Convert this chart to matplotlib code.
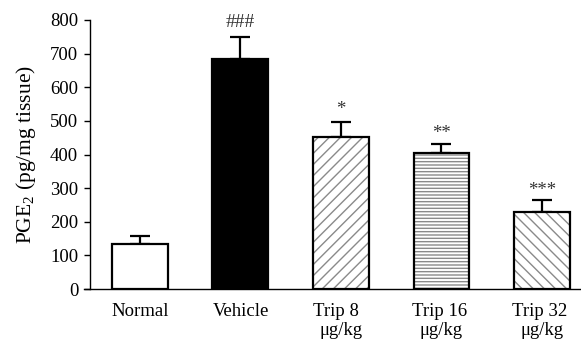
import matplotlib
matplotlib.use("Agg")
import matplotlib.pyplot as plt

categories = ["Normal", "Vehicle", "Trip 8  \nμg/kg", "Trip 16 \nμg/kg", "Trip 32 \nμg/kg"]
means = [135, 685, 453, 404, 229]
sems = [23, 65, 44, 28, 37]
marks = ["", "###", "*", "**", "***"]
hatches = [None, None, "///", "-----", "\\\\\\"]
faces = ["white", "black", "white", "white", "white"]
yticks = [0, 100, 200, 300, 400, 500, 600, 700, 800]

plt.rcParams["font.family"] = ["Liberation Serif", "DejaVu Serif"]
plt.rcParams["mathtext.fontset"] = "custom"
plt.rcParams["mathtext.rm"] = "Liberation Serif"
plt.rcParams["mathtext.it"] = "Liberation Serif:italic"
plt.rcParams["hatch.linewidth"] = 1.0

fig = plt.figure(figsize=(5.81, 3.39), dpi=100)
ax = fig.add_axes([84/581, 1-289/339, 1-84/581, (289-20)/339])

x = list(range(len(categories)))
w = 0.557
for i in x:
    if hatches[i]:
        ax.bar(i, means[i], width=w, color="white", edgecolor="#8a8a8a",
               hatch=hatches[i], linewidth=0, zorder=2)
        ax.bar(i, means[i], width=w, fill=False, edgecolor="black", linewidth=1.6, zorder=3)
    else:
        ax.bar(i, means[i], width=w, color=faces[i], edgecolor="black", linewidth=1.6, zorder=3)

ax.errorbar(x, means, yerr=[[0]*5, sems], fmt="none", ecolor="black",
            elinewidth=1.6, capsize=7.5, capthick=1.6, zorder=1)

offs = [0, 44, 36, 31, 28]
msize = [0, 14, 13.5, 13.5, 13.5]
for i in x:
    if marks[i]:
        ax.text(i, means[i] + sems[i] + offs[i], marks[i], ha="center", va="center",
                fontsize=msize[i], color="#333333")

ax.set_xlim(-0.557, 4.388)
ax.set_ylim(0, 800)
ax.set_yticks(yticks)
ax.set_xticks(x)
ax.set_xticklabels(categories, fontsize=13.5, linespacing=1.15)
ax.tick_params(axis="x", length=0, pad=10)
ax.tick_params(axis="y", direction="out", length=4.5, width=1.0, labelsize=13.5, pad=4)
ax.spines["top"].set_visible(False)
ax.spines["right"].set_visible(False)
ax.spines["left"].set_position(("data", -0.4975))
ax.spines["left"].set_linewidth(1.0)
ax.spines["bottom"].set_linewidth(1.0)
ax.set_ylabel("PGE$_2$ (pg/mg tissue)", fontsize=15.5, labelpad=9)

fig.savefig("out.png", dpi=100)
